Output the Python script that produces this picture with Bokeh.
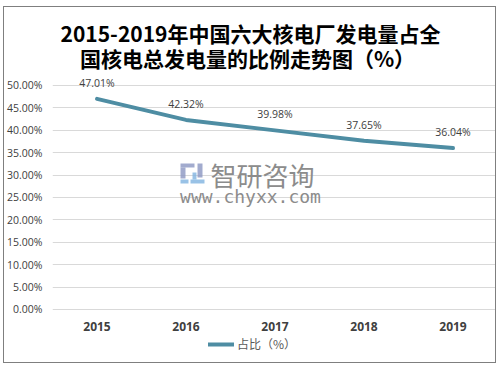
from bokeh.plotting import figure
from bokeh.models import (ColumnDataSource, NumeralTickFormatter, Legend,
                          LegendItem, Label, LabelSet, FixedTicker, BoxAnnotation)
from bokeh.core.properties import value
from bokeh.embed import file_html
from bokeh.resources import INLINE

years = ["2015", "2016", "2017", "2018", "2019"]
share_pct = [47.01, 42.32, 39.98, 37.65, 36.04]
y_ticks_pct = [0, 5, 10, 15, 20, 25, 30, 35, 40, 45, 50]
title_line1 = "2015-2019年中国六大核电厂发电量占全"
title_line2 = "国核电总发电量的比例走势图（%）"
series_name = "占比（%）"

source = ColumnDataSource(dict(
    year=years,
    share=[v / 100 for v in share_pct],
    label=[f"{v:.2f}%" for v in share_pct],
    base=[0] * len(years),
))

# frame covers the whole card; the y range is widened so that the 0-50% band
# sits where the reference's plot area is, leaving room for title and legend
p = figure(x_range=years, y_range=(-0.1228, 0.6741), width=493, height=357,
           output_backend="svg", toolbar_location=None,
           min_border_left=48, min_border_right=0,
           min_border_top=0, min_border_bottom=0)
p.styles = {"border": "1px solid #7f7f7f", "margin-left": "3px", "margin-top": "6px"}
p.outline_line_color = None
p.background_fill_color = "white"
p.border_fill_color = "white"

# title (two lines)
for txt, sx, sy in [(title_line1, 198, 332), (title_line2, 195, 306.5)]:
    p.add_layout(Label(x=sx, y=sy, x_units="screen", y_units="screen", text=txt,
                       text_font="Noto Sans CJK SC", text_font_size="21px",
                       text_font_style="bold", text_color="black",
                       text_align="center", text_baseline="middle"))

# watermark
wm = "#8c8c8c"
p.add_layout(Label(x=158, y=190, x_units="screen", y_units="screen", text="智研咨询",
                   text_font="Noto Sans CJK SC", text_font_size="26px",
                   text_color=wm, text_baseline="middle", text_align="left"))
p.add_layout(Label(x=198, y=168, x_units="screen", y_units="screen", text="www.chyxx.com",
                   text_font="DejaVu Sans Mono", text_font_size="18px",
                   text_color=wm, text_baseline="middle", text_align="center"))
for l, r_, b, t, c in [(128, 142, 197, 201, "#8b96c2"), (128, 133, 186, 197, "#8b96c2"),
                       (145, 150, 187, 201, "#8b96c2"), (128, 136, 181, 185, "#7fb3e0"),
                       (138, 152, 181, 185, "#7fb3e0"), (140, 144, 185, 192, "#7fb3e0")]:
    p.add_layout(BoxAnnotation(left=l, right=r_, bottom=b, top=t, left_units="screen",
                               right_units="screen", bottom_units="screen",
                               top_units="screen", fill_color=c, fill_alpha=0.8,
                               line_color=None))

r = p.line("year", "share", source=source, line_color="#4E8DA3", line_width=4,
           line_cap="round", line_join="round")

p.add_layout(LabelSet(x="year", y="share", text="label", source=source,
                      y_offset=16, text_align="center", text_baseline="middle",
                      text_font=value("Open Sans"), text_font_size=value("10.5px"),
                      text_color="#404040"))

# category labels under the 0% line
p.add_layout(LabelSet(x="year", y="base", text="year", source=source,
                      y_offset=-17, text_align="center", text_baseline="middle",
                      text_font=value("Open Sans"), text_font_size=value("12px"),
                      text_font_style="bold", text_color="#404040"))
p.xaxis.visible = False

# y axis
p.yaxis.ticker = FixedTicker(ticks=[t / 100 for t in y_ticks_pct])
p.yaxis.formatter = NumeralTickFormatter(format="0.00%")
p.yaxis.axis_line_color = None
p.yaxis.major_tick_line_color = None
p.yaxis.minor_tick_line_color = None
p.yaxis.major_tick_out = 0
p.yaxis.major_tick_in = 0
p.yaxis.minor_tick_out = 0
p.yaxis.major_label_text_font = "Open Sans"
p.yaxis.major_label_text_font_size = "10.5px"
p.yaxis.major_label_text_color = "#404040"
p.yaxis.major_label_standoff = 10

p.xgrid.grid_line_color = None
p.ygrid.grid_line_color = "#d9d9d9"
p.ygrid.grid_line_width = 1

legend = Legend(items=[LegendItem(label=series_name, renderers=[r])],
                orientation="horizontal", location=(156, 12),
                label_text_font="Noto Sans CJK SC", label_text_font_size="12px",
                label_text_color="#595959", glyph_width=26, glyph_height=14,
                label_height=14, border_line_color=None, background_fill_alpha=0,
                padding=0, margin=0, label_standoff=3)
p.add_layout(legend, "center")

open("out.html", "w").write(file_html(p, INLINE))
